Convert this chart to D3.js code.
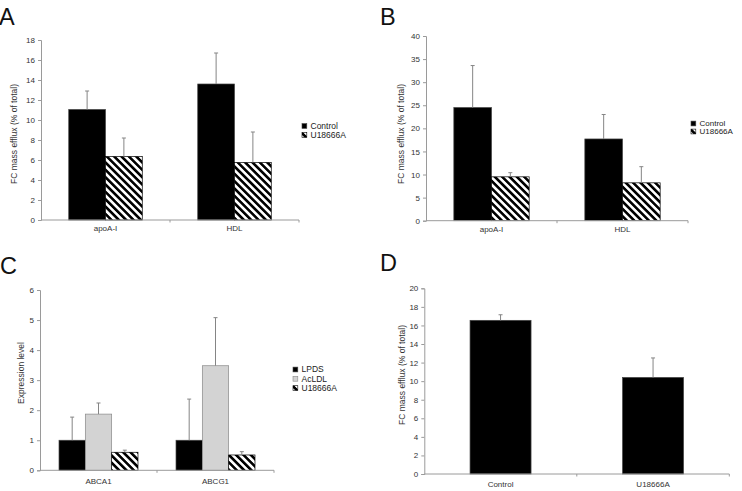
<!DOCTYPE html>
<html>
<head>
<meta charset="utf-8">
<script src="https://cdn.jsdelivr.net/npm/d3@7"></script>
<style>
  body { margin: 0; background: #fff; }
  svg { font-family: "Liberation Sans", Arial, sans-serif; }
</style>
</head>
<body>
<script>
'use strict';

// ---- panel A data
var aCategories = ["apoA-I", "HDL"];
var aSeries = ["Control", "U18666A"];
var aControl = [11.05, 13.6];
var aControlErr = [1.85, 3.1];
var aU18666A = [6.35, 5.75];
var aU18666AErr = [1.85, 3.05];
var aTicks = [0, 2, 4, 6, 8, 10, 12, 14, 16, 18];

// ---- panel B data
var bCategories = ["apoA-I", "HDL"];
var bSeries = ["Control", "U18666A"];
var bControl = [24.5, 17.7];
var bControlErr = [9.1, 5.3];
var bU18666A = [9.5, 8.2];
var bU18666AErr = [0.9, 3.5];
var bTicks = [0, 5, 10, 15, 20, 25, 30, 35, 40];

// ---- panel C data
var cCategories = ["ABCA1", "ABCG1"];
var cSeries = ["LPDS", "AcLDL", "U18666A"];
var cLPDS = [1.0, 1.0];
var cLPDSErr = [0.77, 1.37];
var cAcLDL = [1.87, 3.48];
var cAcLDLErr = [0.37, 1.6];
var cU18666A = [0.6, 0.51];
var cU18666AErr = [0.07, 0.11];
var cTicks = [0, 1, 2, 3, 4, 5, 6];

// ---- panel D data
var dCategories = ["Control", "U18666A"];
var dValues = [16.55, 10.4];
var dErr = [0.6, 2.1];
var dTicks = [0, 2, 4, 6, 8, 10, 12, 14, 16, 18, 20];

var fills = { "Control": "#000", "LPDS": "#000", "AcLDL": "#d3d3d3", "U18666A": "url(#hatch)", "bar": "#000" };
var strokes = { "Control": "#444", "LPDS": "#444", "AcLDL": "#888", "U18666A": "#000", "bar": "#444" };

var svg = d3.select("body").append("svg")
            .attr("width", 742)
            .attr("height", 491);

// diagonal stripes for the U18666A bars
var pat = svg.append("defs").append("pattern")
             .attr("id", "hatch")
             .attr("patternUnits", "userSpaceOnUse")
             .attr("width", 5.2)
             .attr("height", 5.2)
             .attr("patternTransform", "rotate(-45)");
pat.append("rect").attr("width", 5.2).attr("height", 5.2).attr("fill", "#fff");
pat.append("rect").attr("width", 2.6).attr("height", 5.2).attr("fill", "#000");

function makeRows(categories, series, values, errs) {
    // one row per bar: category, series name, value, error
    var rows = [];
    categories.forEach(function(c, i) {
        series.forEach(function(s, j) {
            rows.push({ cat: c, ser: s, v: values[j][i], e: errs[j][i] });
        });
    });
    return rows;
}

function drawPanel(cfg) {
    var g = svg.append("g");

    var x = d3.scaleBand()
              .domain(cfg.categories)
              .range([cfg.x0, cfg.x1]);

    // bar group centered in its category, pad = empty share of the category
    var inner = d3.scaleBand()
                  .domain(cfg.series)
                  .range([x.bandwidth() * cfg.pad / 2, x.bandwidth() * (1 - cfg.pad / 2)]);

    var y = d3.scaleLinear()
              .domain(cfg.domain)
              .range([cfg.yb, cfg.yt]);

    // bars
    g.selectAll("rect.bar")
     .data(cfg.rows)
     .enter()
     .append("rect")
     .attr("class", "bar")
     .attr("x", function(d) { return x(d.cat) + inner(d.ser); })
     .attr("width", inner.bandwidth())
     .attr("y", function(d) { return y(d.v); })
     .attr("height", function(d) { return y(0) - y(d.v); })
     .attr("fill", function(d) { return fills[d.ser]; })
     .attr("stroke", function(d) { return strokes[d.ser]; })
     .attr("stroke-width", 0.7);

    // error bars (upper only)
    var eb = g.selectAll("g.err")
              .data(cfg.rows)
              .enter()
              .append("g")
              .attr("class", "err")
              .attr("stroke", "#858585")
              .attr("stroke-width", 1);
    eb.append("line")
      .attr("x1", function(d) { return x(d.cat) + inner(d.ser) + inner.bandwidth() / 2; })
      .attr("x2", function(d) { return x(d.cat) + inner(d.ser) + inner.bandwidth() / 2; })
      .attr("y1", function(d) { return y(d.v); })
      .attr("y2", function(d) { return y(d.v + d.e); });
    eb.append("line")
      .attr("x1", function(d) { return x(d.cat) + inner(d.ser) + inner.bandwidth() / 2 - 2; })
      .attr("x2", function(d) { return x(d.cat) + inner(d.ser) + inner.bandwidth() / 2 + 2; })
      .attr("y1", function(d) { return y(d.v + d.e); })
      .attr("y2", function(d) { return y(d.v + d.e); });

    // y axis
    var ya = g.append("g")
              .attr("transform", "translate(" + cfg.x0 + ",0)")
              .call(d3.axisLeft(y).tickValues(cfg.ticks).tickFormat(d3.format("d")).tickSize(3).tickPadding(3));
    ya.select(".domain").attr("stroke", "#9a9a9a");
    ya.selectAll(".tick line").attr("stroke", "#9a9a9a");
    ya.selectAll("text").attr("fill", "#333").style("font-size", "8px");

    // x axis: ticks sit on category boundaries, like the original
    var xa = g.append("g")
              .attr("transform", "translate(0," + cfg.yb + ")");
    xa.append("line")
      .attr("x1", cfg.x0).attr("x2", cfg.x1)
      .attr("stroke", "#9a9a9a");
    xa.selectAll("line.tk")
      .data(cfg.categories.slice(1).concat(["__end"]))
      .enter()
      .append("line")
      .attr("class", "tk")
      .attr("x1", function(d) { return d == "__end" ? cfg.x1 : x(d); })
      .attr("x2", function(d) { return d == "__end" ? cfg.x1 : x(d); })
      .attr("y1", 0).attr("y2", 2.5)
      .attr("stroke", "#9a9a9a");
    xa.selectAll("text")
      .data(cfg.categories)
      .enter()
      .append("text")
      .attr("x", function(d) { return x(d) + x.bandwidth() / 2; })
      .attr("y", cfg.labelDy)
      .attr("text-anchor", "middle")
      .attr("fill", "#333")
      .style("font-size", "8px")
      .text(function(d) { return d; });

    // y label
    g.append("text")
     .attr("transform", "translate(" + cfg.ylx + "," + cfg.yly + ") rotate(-90)")
     .attr("text-anchor", "middle")
     .attr("dy", "0.35em")
     .attr("fill", "#333")
     .style("font-size", "8.5px")
     .text(cfg.ylabel);

    // panel letter
    g.append("text")
     .attr("x", cfg.letterX)
     .attr("y", cfg.letterY)
     .attr("fill", "#111")
     .style("font-size", "23.5px")
     .text(cfg.letter);

    // legend
    if (cfg.legend) {
        var lg = g.selectAll("g.leg")
                  .data(cfg.series)
                  .enter()
                  .append("g")
                  .attr("class", "leg")
                  .attr("transform", function(d, i) {
                      return "translate(" + cfg.legend.x + "," + (cfg.legend.y + i * cfg.legend.dy) + ")";
                  });
        lg.append("rect")
          .attr("x", 0).attr("y", -2.4)
          .attr("width", 4.8).attr("height", 4.8)
          .attr("fill", function(d) { return fills[d]; })
          .attr("stroke", function(d) { return strokes[d]; })
          .attr("stroke-width", 0.6);
        lg.append("text")
          .attr("x", 8.5)
          .attr("dy", "0.35em")
          .attr("fill", "#222")
          .style("font-size", cfg.legend.size)
          .text(function(d) { return d; });
    }
}

drawPanel({
    letter: "A", letterX: -1, letterY: 25,
    categories: aCategories, series: aSeries,
    rows: makeRows(aCategories, aSeries, [aControl, aU18666A], [aControlErr, aU18666AErr]),
    domain: [0, 18], ticks: aTicks,
    x0: 41, x1: 299, yt: 40, yb: 220, pad: 0.43, labelDy: 11,
    ylabel: "FC mass efflux (% of total)", ylx: 14, yly: 134,
    legend: { x: 302, y: 126, dy: 9, size: "8.5px" }
});

drawPanel({
    letter: "B", letterX: 380, letterY: 25,
    categories: bCategories, series: bSeries,
    rows: makeRows(bCategories, bSeries, [bControl, bU18666A], [bControlErr, bU18666AErr]),
    domain: [0, 40], ticks: bTicks,
    x0: 426, x1: 688, yt: 36, yb: 220.7, pad: 0.425, labelDy: 11,
    ylabel: "FC mass efflux (% of total)", ylx: 401, yly: 134,
    legend: { x: 691, y: 123.5, dy: 8, size: "8px" }
});

drawPanel({
    letter: "C", letterX: 0, letterY: 274,
    categories: cCategories, series: cSeries,
    rows: makeRows(cCategories, cSeries, [cLPDS, cAcLDL, cU18666A], [cLPDSErr, cAcLDLErr, cU18666AErr]),
    domain: [0, 6], ticks: cTicks,
    x0: 40, x1: 274, yt: 290, yb: 470.3, pad: 0.325, labelDy: 14,
    ylabel: "Expression level", ylx: 21, yly: 373,
    legend: { x: 293, y: 369.5, dy: 9.3, size: "8.5px" }
});

drawPanel({
    letter: "D", letterX: 380, letterY: 271,
    categories: dCategories, series: ["bar"],
    rows: dCategories.map(function(c, i) { return { cat: c, ser: "bar", v: dValues[i], e: dErr[i] }; }),
    domain: [0, 20], ticks: dTicks,
    x0: 424.3, x1: 729.3, yt: 288.3, yb: 474, pad: 0.6, labelDy: 13,
    ylabel: "FC mass efflux (% of total)", ylx: 402, yly: 375,
    legend: null
});
</script>
</body>
</html>
